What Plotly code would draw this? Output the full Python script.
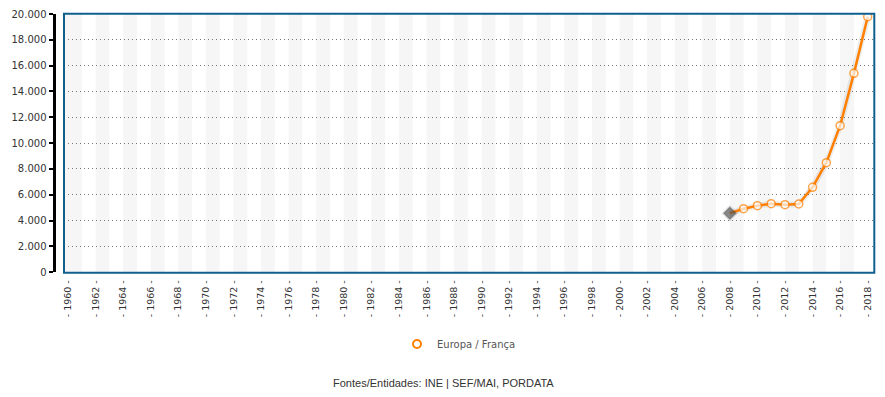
import plotly.graph_objects as go

W, H = 885, 397

# ---- data ----
years = list(range(1960, 2019))
label_years = list(range(1960, 2019, 2))
tick_labels = ["- %d -" % y for y in label_years]
data_years = list(range(2008, 2019))
values = [4568, 4925, 5157, 5312, 5234, 5288, 6581, 8486, 11351, 15408, 19791]
series_name = "Europa / França"
y_ticks = list(range(0, 20001, 2000))
source_text = "Fontes/Entidades: INE | SEF/MAI, PORDATA"

# ---- geometry (pixels -> paper) ----
px = lambda v: v / W
py = lambda v: 1 - v / H
x_dom = [px(64), px(874.3)]
y_dom = [py(272.3), py(14)]
step = (867.7 - 68) / 58
x_range = [1960 - (68 - 64) / step, 2018 + (874.3 - 867.7) / step]

orange = "#ff8000"
sym = ["diamond"] + ["circle"] * (len(values) - 1)
fill = ["#555555"] + ["white"] * (len(values) - 1)
lcol = ["rgba(0,0,0,0.18)"] + [orange] * (len(values) - 1)
lw = [2.5] + [1.5] * (len(values) - 1)
size = [10] + [8] * (len(values) - 1)

fig = go.Figure()
fig.add_trace(go.Scatter(x=data_years, y=values, mode="lines",
                         line=dict(color="rgba(0,0,0,0.07)", width=6),
                         hoverinfo="skip", showlegend=False))
fig.add_trace(go.Scatter(x=data_years, y=values, mode="lines+markers",
                         line=dict(color=orange, width=2.5),
                         marker=dict(symbol=sym, color=fill, size=size,
                                     line=dict(color=lcol, width=lw)),
                         name=series_name, showlegend=False))
fig.add_trace(go.Scatter(x=[None], y=[None], mode="markers",
                         marker=dict(symbol="circle", color="white", size=8,
                                     line=dict(color=orange, width=2)),
                         name=series_name, showlegend=True))

shapes = []
shapes.append(dict(type="rect", xref="x", yref="paper", x0=years[0] - 1, x1=years[0],
                   y0=y_dom[0], y1=y_dom[1], fillcolor="#f6f6f6", line_width=0, layer="below"))
for y in years[:-1]:
    if y % 2 == 0:
        shapes.append(dict(type="rect", xref="x", yref="paper", x0=y, x1=y + 1,
                           y0=y_dom[0], y1=y_dom[1], fillcolor="#f6f6f6",
                           line_width=0, layer="below"))
shapes.append(dict(type="rect", xref="paper", yref="paper",
                   x0=px(64), x1=px(874.3), y0=py(272.7), y1=py(13.7),
                   line=dict(color="#0f5f8f", width=2), fillcolor="rgba(0,0,0,0)",
                   layer="above"))

fig.update_layout(
    width=W, height=H,
    margin=dict(l=0, r=0, t=0, b=0, autoexpand=False),
    paper_bgcolor="white", plot_bgcolor="white",
    separators=",.",
    shapes=shapes,
    xaxis=dict(domain=x_dom, range=x_range, showgrid=False, zeroline=False,
               showline=False, tickmode="array", tickvals=label_years,
               ticktext=tick_labels, tickangle=-90, ticks="",
               ticklabelstandoff=5, automargin=False,
               tickfont=dict(family="DejaVu Sans", size=9.5, color="#333333")),
    yaxis=dict(domain=y_dom, range=[0, 20000], anchor="free", position=px(53.5),
               showline=True, linecolor="black", linewidth=3, automargin=False,
               ticks="outside", ticklen=4, tickwidth=2, tickcolor="black",
               tickvals=y_ticks, tickformat=",d",
               showgrid=True, gridcolor="#777777", gridwidth=1, griddash="1px,3px",
               zeroline=False,
               tickfont=dict(family="DejaVu Sans", size=10, color="#333333")),
    legend=dict(orientation="h", x=px(397), y=py(344), xanchor="left", yanchor="middle",
                font=dict(family="DejaVu Sans", size=10, color="#555555"),
                bgcolor="rgba(0,0,0,0)"),
    annotations=[dict(text=source_text, xref="paper", yref="paper",
                      x=px(443), y=py(383), showarrow=False,
                      xanchor="center", yanchor="middle",
                      font=dict(family="Liberation Sans", size=11, color="#333333"))],
)

fig.write_html("out.html")
